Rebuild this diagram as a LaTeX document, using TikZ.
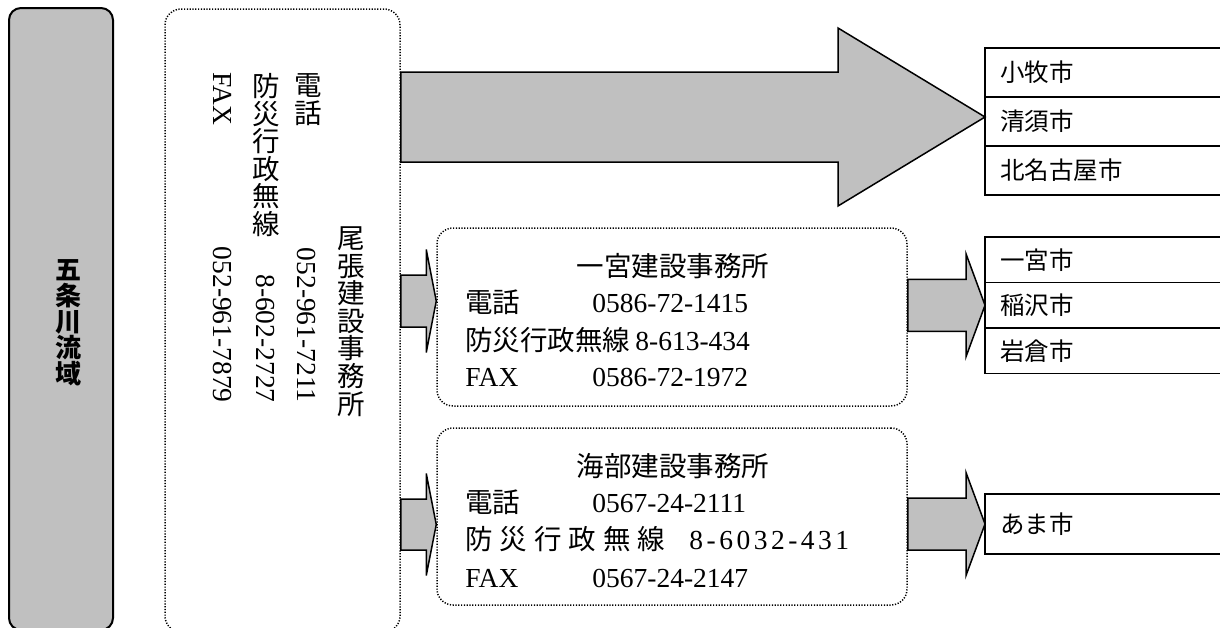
\documentclass[tikz,border=0pt]{standalone}
\usepackage{fontspec}
\setmainfont{Noto Sans CJK JP}
\newfontfamily\numfont{Liberation Serif}
\definecolor{ArrowGray}{HTML}{C0C0C0}
\usetikzlibrary{positioning,calc}
% flat block arrow: tail, tip, shaft half width, head half width, head length
\newcommand{\blockarrow}[5]{%
  \draw[blockarrow] ($(#1)+(0,-#3)$) -- ($(#2)+(-#5,-#3)$) -- ($(#2)+(-#5,-#4)$) -- (#2)
    -- ($(#2)+(-#5,#4)$) -- ($(#2)+(-#5,#3)$) -- ($(#1)+(0,#3)$) -- cycle;}
\newcommand{\cjksp}{\kern3.5pt}
\newcommand{\numsp}{\kern1.75pt}

\begin{document}
\begin{tikzpicture}[x=0.5pt, y=-0.5pt,
    dotbox/.style={draw, rounded corners=8pt, line width=0.75pt, dash pattern=on 0.6pt off 0.8pt},
    city/.style={draw, line width=0.75pt, outer sep=0pt, inner xsep=7.5pt, text width=112.5pt,
      align=left, font=\fontsize{12.25pt}{14pt}\selectfont},
    blockarrow/.style={draw, line width=0.75pt, fill=ArrowGray, line join=miter},
    numtext/.style={font=\numfont\fontsize{13.75pt}{16pt}\selectfont},
    every node/.style={font=\fontsize{13.75pt}{13.8pt}\selectfont, inner sep=0pt}]
  \useasboundingbox (0,0) rectangle (1220,627);

  % river basin
  \node[draw, line width=1pt, fill=ArrowGray, rounded corners=6pt,
    minimum width=52pt, minimum height=311pt] (basin) at (61,319) {};
  \node[font=\bfseries\fontsize{13pt}{13pt}\selectfont, align=center] (basinlabel) at (68,323)
    {五\\条\\川\\流\\域};

  % Owari office, vertical writing
  \node[dotbox, minimum width=117.5pt, minimum height=311.5pt] (owari) at (282.5,320.5) {};
  \node[align=center] (owariname) at (351,321.5) {尾\\張\\建\\設\\事\\務\\所};
  \node[align=center] (owaritel) at (308,99.6) {電\\話};
  \node[align=center] (owaribousai) at (266,155) {防\\災\\行\\政\\無\\線};
  \node[numtext, rotate=-90, anchor=west] (owarifax) at (223,72) {FAX};
  \node[numtext, rotate=-90, anchor=east] (owaritelno) at (307,403) {052-961-7211};
  \node[numtext, rotate=-90, anchor=east] (owaribousaino) at (266,403) {8-602-2727};
  \node[numtext, rotate=-90, anchor=east] (owarifaxno) at (223,403) {052-961-7879};

  % Ichinomiya office
  \node[dotbox, minimum width=235pt, minimum height=89pt] (ichi) at (672,317) {};
  \node[anchor=base] (ichiname) at (673,276) {一宮建設事務所};
  \node[anchor=base west] (ichitel) at (465,312) {\makebox[63.5pt][l]{電話}{\numfont 0586-72-1415}};
  \node[anchor=base west] (ichibousai) at (465,350) {防災行政無線\kern2.5pt{\numfont 8-613-434}};
  \node[anchor=base west] (ichifax) at (465,386) {\makebox[63.5pt][l]{\numfont FAX}{\numfont 0586-72-1972}};

  % Ama office
  \node[dotbox, minimum width=235pt, minimum height=88.5pt] (ama) at (672,516.5) {};
  \node[anchor=base] (amaname) at (673,476) {海部建設事務所};
  \node[anchor=base west] (amatel) at (465,512) {\makebox[63.5pt][l]{電話}{\numfont 0567-24-2111}};
  \node[anchor=base west] (amabousai) at (465,549)
    {防\cjksp 災\cjksp 行\cjksp 政\cjksp 無\cjksp 線\kern12pt{\numfont 8\numsp-\numsp 6\numsp 0\numsp 3\numsp 2\numsp-\numsp 4\numsp 3\numsp 1}};
  \node[anchor=base west] (amafax) at (465,587) {\makebox[63.5pt][l]{\numfont FAX}{\numfont 0567-24-2147}};

  % cities
  \node[city, minimum height=24.5pt, anchor=north west] (komaki) at (985,48) {小牧市};
  \node[city, minimum height=24.5pt, below=0pt of komaki] (kiyosu) {清須市};
  \node[city, minimum height=24.5pt, below=0pt of kiyosu] (kitanagoya) {北名古屋市};
  \node[city, minimum height=22.75pt, anchor=north west] (ichicity) at (985,237) {一宮市};
  \node[city, minimum height=22.75pt, below=0pt of ichicity] (inazawa) {稲沢市};
  \node[city, minimum height=22.75pt, below=0pt of inazawa] (iwakura) {岩倉市};
  \node[city, minimum height=30pt, anchor=north west] (amacity) at (985,494) {あま市};

  % arrows
  \coordinate (bigtail) at (owari.east |- 0,117);
  \coordinate (bigtip) at (kiyosu.west |- 0,117);
  \coordinate (ichitail) at (owari.east |- 0,301);
  \coordinate (ichitip) at (ichi.west |- 0,301);
  \coordinate (amatail) at (owari.east |- 0,524.5);
  \coordinate (amatip) at (ama.west |- 0,524.5);
  \coordinate (inatail) at (ichi.east |- inazawa.west);
  \coordinate (amacitytail) at (ama.east |- amacity.west);
  \blockarrow{bigtail}{bigtip}{45}{89}{147}
  \blockarrow{ichitail}{ichitip}{26}{51.5}{10}
  \blockarrow{amatail}{amatip}{25.5}{51}{10}
  \blockarrow{inatail}{inazawa.west}{26}{51.5}{19}
  \blockarrow{amacitytail}{amacity.west}{26}{51.5}{19}
\end{tikzpicture}
\end{document}
